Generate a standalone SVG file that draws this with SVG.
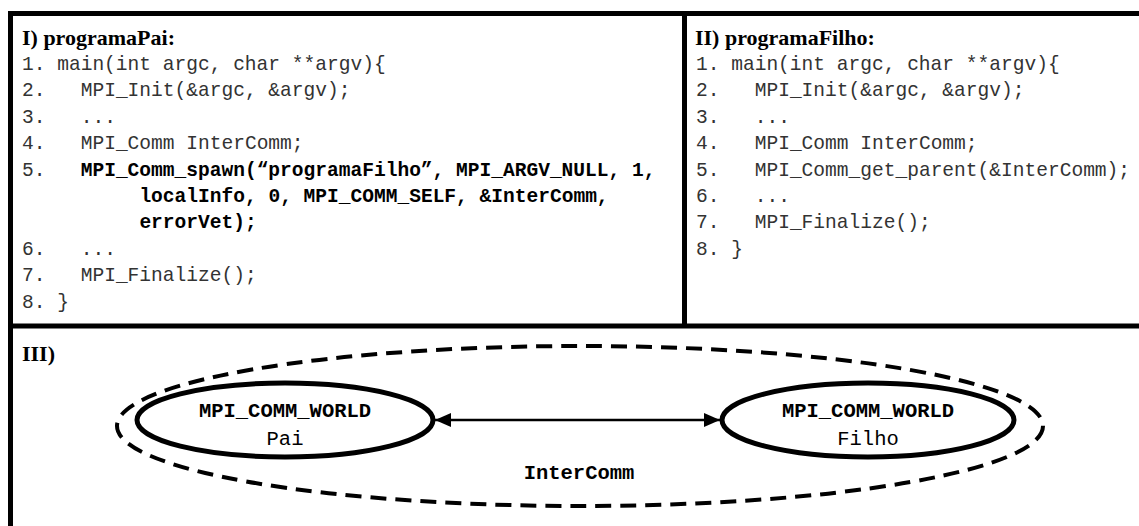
<svg xmlns="http://www.w3.org/2000/svg" width="1139" height="526" viewBox="0 0 1139 526">
<defs>
<style>
.frame{fill:none;stroke:#000;stroke-width:5}
.title{font-family:"Liberation Serif","Times New Roman",serif;font-weight:bold;font-size:22px;fill:#000}
.code{font-family:"Liberation Mono","Courier New",monospace;font-size:19.56px;fill:#333}
.b{font-weight:bold;fill:#000}
.lbl{font-family:"Liberation Mono","Courier New",monospace;font-size:20.5px;fill:#000;text-anchor:middle}
.node{fill:#fff;stroke:#000;stroke-width:5}
.group{fill:none;stroke:#000;stroke-width:4;stroke-dasharray:16 9}
.conn{stroke:#000;stroke-width:2.5;fill:none}
</style>
<marker id="ah2" viewBox="0 0 16 14" refX="16" refY="7" markerWidth="16" markerHeight="14" markerUnits="userSpaceOnUse" orient="auto-start-reverse">
<path d="M0,0 L16,7 L0,14 z" fill="#000"/>
</marker>
</defs>
<rect width="1139" height="526" fill="#fff"/>
<g id="frame">
<rect class="frame" x="10.5" y="13.5" width="1140" height="530"/>
<line class="frame" x1="10.5" y1="326" x2="1145" y2="326"/>
<line class="frame" x1="684.5" y1="13.5" x2="684.5" y2="326"/>
</g>
<g id="panel-pai">
<text class="title" x="22" y="45">I) programaPai:</text>
<text class="code"><tspan x="22" y="70">1.</tspan><tspan x="57.2" y="70">main(int argc, char **argv){</tspan></text>
<text class="code"><tspan x="22" y="96.4">2.</tspan><tspan x="80.7" y="96.4">MPI_Init(&amp;argc, &amp;argv);</tspan></text>
<text class="code"><tspan x="22" y="122.8">3.</tspan><tspan x="80.7" y="122.8">...</tspan></text>
<text class="code"><tspan x="22" y="149.2">4.</tspan><tspan x="80.7" y="149.2">MPI_Comm InterComm;</tspan></text>
<text class="code"><tspan x="22" y="175.6">5.</tspan><tspan class="b" x="80.7" y="175.6">MPI_Comm_spawn(“programaFilho”, MPI_ARGV_NULL, 1,</tspan></text>
<text class="code b" x="139.4" y="202">localInfo, 0, MPI_COMM_SELF, &amp;InterComm,</text>
<text class="code b" x="139.4" y="228.4">errorVet);</text>
<text class="code"><tspan x="22" y="254.8">6.</tspan><tspan x="80.7" y="254.8">...</tspan></text>
<text class="code"><tspan x="22" y="281.2">7.</tspan><tspan x="80.7" y="281.2">MPI_Finalize();</tspan></text>
<text class="code"><tspan x="22" y="307.6">8.</tspan><tspan x="57.2" y="307.6">}</tspan></text>
</g>
<g id="panel-filho">
<text class="title" x="695" y="45">II) programaFilho:</text>
<text class="code"><tspan x="696" y="70">1.</tspan><tspan x="731.2" y="70">main(int argc, char **argv){</tspan></text>
<text class="code"><tspan x="696" y="96.4">2.</tspan><tspan x="754.7" y="96.4">MPI_Init(&amp;argc, &amp;argv);</tspan></text>
<text class="code"><tspan x="696" y="122.8">3.</tspan><tspan x="754.7" y="122.8">...</tspan></text>
<text class="code"><tspan x="696" y="149.2">4.</tspan><tspan x="754.7" y="149.2">MPI_Comm InterComm;</tspan></text>
<text class="code"><tspan x="696" y="175.6">5.</tspan><tspan x="754.7" y="175.6">MPI_Comm_get_parent(&amp;InterComm);</tspan></text>
<text class="code"><tspan x="696" y="202">6.</tspan><tspan x="754.7" y="202">...</tspan></text>
<text class="code"><tspan x="696" y="228.4">7.</tspan><tspan x="754.7" y="228.4">MPI_Finalize();</tspan></text>
<text class="code"><tspan x="696" y="254.8">8.</tspan><tspan x="731.2" y="254.8">}</tspan></text>
</g>
<g id="panel-iii">
<text class="title" x="22" y="361">III)</text>
</g>
<g id="intercomm">
<ellipse class="group" cx="580" cy="426" rx="463" ry="80"/>
<text class="lbl" x="579" y="479" font-weight="bold">InterComm</text>
</g>
<g id="connectors">
<line class="conn" x1="435" y1="420" x2="720" y2="420" marker-start="url(#ah2)" marker-end="url(#ah2)"/>
</g>
<g id="node-pai">
<ellipse class="node" cx="285" cy="420" rx="148" ry="37"/>
<text class="lbl" x="285" y="416.5" font-weight="bold">MPI_COMM_WORLD</text>
<text class="lbl" x="285" y="445" fill="#333">Pai</text>
</g>
<g id="node-filho">
<ellipse class="node" cx="868" cy="420" rx="146" ry="37"/>
<text class="lbl" x="868" y="416.5" font-weight="bold">MPI_COMM_WORLD</text>
<text class="lbl" x="868" y="445" fill="#333">Filho</text>
</g>
</svg>
